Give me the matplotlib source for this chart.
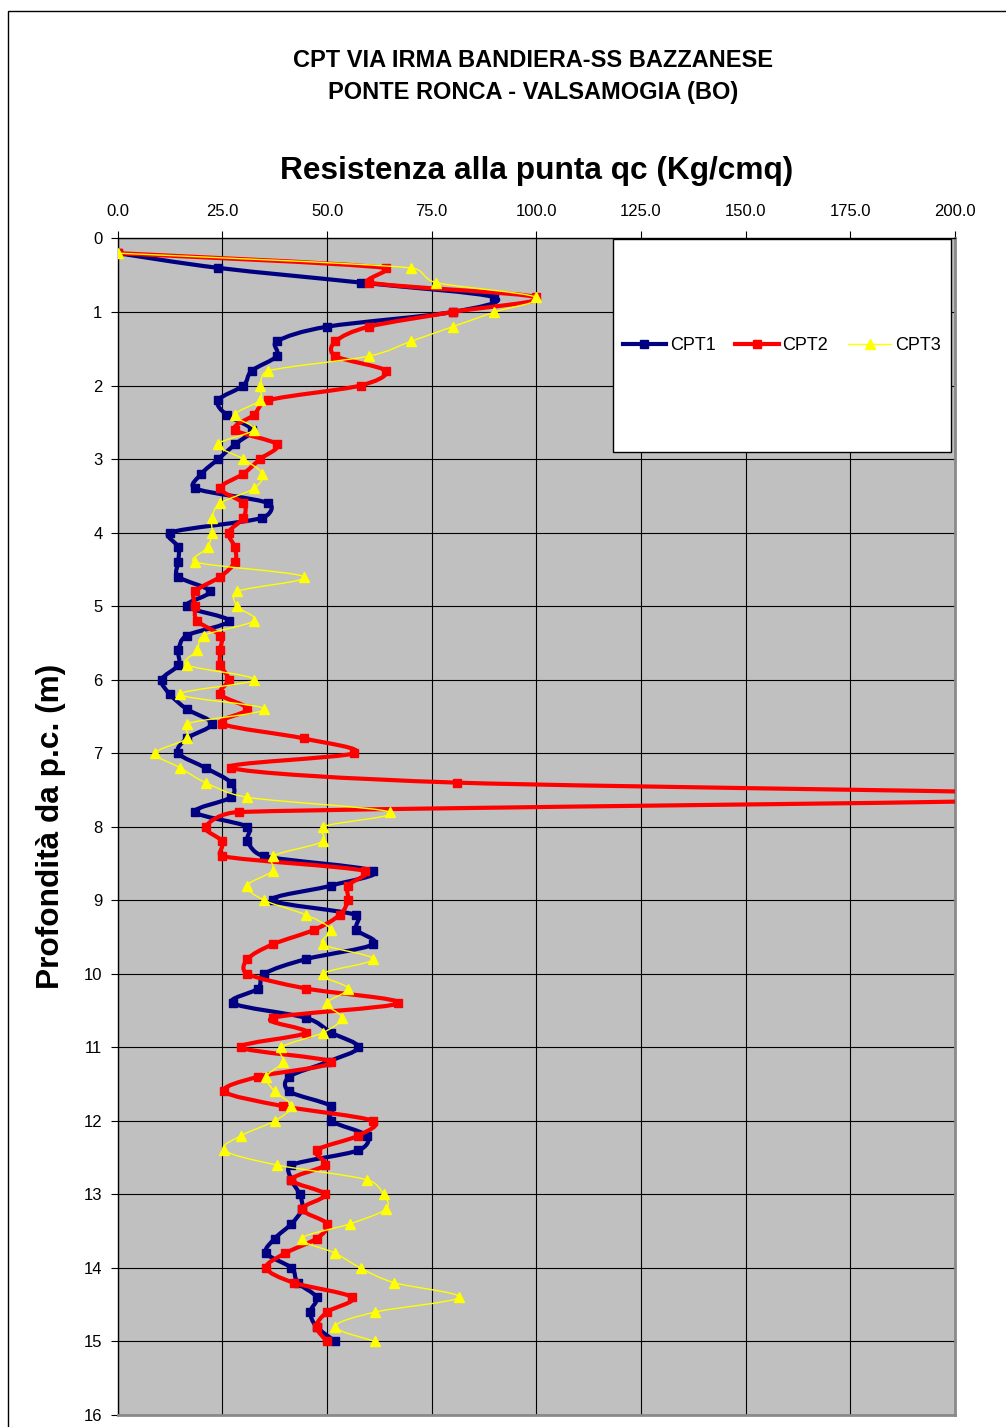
import matplotlib
matplotlib.use("Agg")
from matplotlib import pyplot as plt
from matplotlib.patches import Rectangle, PathPatch
from matplotlib.path import Path
from matplotlib.lines import Line2D
from matplotlib.ticker import FormatStrFormatter

plt.rcParams['font.family'] = ['Liberation Sans', 'DejaVu Sans']

# profondita' (m), passo 0.2 m
profondita = [0.2, 0.4, 0.6, 0.8, 1.0, 1.2, 1.4, 1.6, 1.8, 2.0,
              2.2, 2.4, 2.6, 2.8, 3.0, 3.2, 3.4, 3.6, 3.8, 4.0,
              4.2, 4.4, 4.6, 4.8, 5.0, 5.2, 5.4, 5.6, 5.8, 6.0,
              6.2, 6.4, 6.6, 6.8, 7.0, 7.2, 7.4, 7.6, 7.8, 8.0,
              8.2, 8.4, 8.6, 8.8, 9.0, 9.2, 9.4, 9.6, 9.8, 10.0,
              10.2, 10.4, 10.6, 10.8, 11.0, 11.2, 11.4, 11.6, 11.8, 12.0,
              12.2, 12.4, 12.6, 12.8, 13.0, 13.2, 13.4, 13.6, 13.8, 14.0,
              14.2, 14.4, 14.6, 14.8, 15.0]

cpt1 = [0, 24, 58, 90, 80, 50, 38, 38, 32, 30,
        24, 26, 32, 28, 24, 20, 18.5, 36, 34.5, 12.5,
        14.5, 14.5, 14.5, 22, 16.5, 26.5, 16.5, 14.5, 14.5, 10.5,
        12.5, 16.5, 22.5, 16.5, 14.5, 21, 27, 27, 18.5, 31,
        31, 35, 61, 51, 37, 57, 57, 61, 45, 35,
        33.5, 27.5, 45, 51, 57.5, 50, 41, 41, 51, 51,
        59.5, 57.5, 41.5, 41.5, 43.5, 44, 41.5, 37.5, 35.5, 41.5,
        43, 47.5, 46, 47.5, 52]

cpt2 = [0, 64, 60, 100, 80, 60, 52, 52, 64, 58,
        36, 32.5, 28, 38, 34, 30, 24.5, 30, 30, 26.5,
        28, 28, 24.5, 18.5, 18.5, 19, 24.5, 24.5, 24.5, 26.5,
        24.5, 31, 25, 44.5, 56.5, 27, 81, 243, 29, 21,
        25, 25, 59, 55, 55, 53, 47, 37, 31, 31,
        45, 67, 37, 45, 29.5, 51, 33.5, 25.5, 39.5, 61,
        57.5, 47.5, 49.5, 41.5, 49.5, 44, 50, 47.5, 40, 35.5,
        42, 56, 50, 47.5, 50]

cpt3 = [0, 70, 76, 100, 90, 80, 70, 60, 36, 34,
        34, 28, 32.5, 24, 30, 34.5, 32.5, 24.5, 22.5, 22.5,
        21.5, 18.5, 44.5, 28.5, 28.5, 32.5, 20.5, 19, 16.5, 32.5,
        15, 35, 16.5, 16.5, 9, 15, 21, 31, 65, 49,
        49, 37, 37, 31, 35, 45, 51, 49, 61, 49,
        55, 50, 53.5, 49, 39, 39.5, 35.5, 37.5, 41.5, 37.5,
        29.5, 25.5, 38, 59.5, 63.5, 64, 55.5, 44, 52, 58,
        66, 81.5, 61.5, 52, 61.5]

serie = [('CPT1', cpt1, '#000080', 3, 's', 5.5),
         ('CPT2', cpt2, '#FF0000', 3, 's', 5.5),
         ('CPT3', cpt3, '#FFFF00', 1, '^', 7)]

pos_assi = [0.117, 0.0084, 0.8323, 0.8245]
# pixel per unita' (serve solo per limitare le tangenti della curva)
SX = pos_assi[2] * 1006 / 200
SY = pos_assi[3] * 1427 / 16


def _lim(dx, dy, corda):
    # accorcia il braccio di controllo se troppo lungo rispetto al segmento
    lung = ((dx * SX) ** 2 + (dy * SY) ** 2) ** 0.5
    mx = 0.5 * corda
    if lung > mx and lung > 0:
        f = mx / lung
        return dx * f, dy * f
    return dx, dy


def curva_liscia(xs, ys):
    # linea "smussata" tipo Excel: bezier cubiche tra punti consecutivi
    n = len(xs)
    verts = [(xs[0], ys[0])]
    codes = [Path.MOVETO]
    for i in range(n - 1):
        x0, y0 = (xs[i - 1], ys[i - 1]) if i > 0 else (xs[i], ys[i])
        x3, y3 = (xs[i + 2], ys[i + 2]) if i + 2 < n else (xs[i + 1], ys[i + 1])
        corda = (((xs[i + 1] - xs[i]) * SX) ** 2 + ((ys[i + 1] - ys[i]) * SY) ** 2) ** 0.5
        d1 = _lim((xs[i + 1] - x0) / 6, (ys[i + 1] - y0) / 6, corda)
        d2 = _lim((x3 - xs[i]) / 6, (y3 - ys[i]) / 6, corda)
        c1 = (xs[i] + d1[0], ys[i] + d1[1])
        c2 = (xs[i + 1] - d2[0], ys[i + 1] - d2[1])
        verts += [c1, c2, (xs[i + 1], ys[i + 1])]
        codes += [Path.CURVE4] * 3
    return Path(verts, codes)


fig = plt.figure(figsize=(10.06, 14.27), dpi=100)
ax = fig.add_axes(pos_assi)
ax.set_facecolor('#C0C0C0')

maniglie = []
for k, (nome, valori, colore, lw, mk, ms) in enumerate(serie):
    ax.add_patch(PathPatch(curva_liscia(valori, profondita), facecolor='none',
                           edgecolor=colore, lw=lw, joinstyle='round', capstyle='round',
                           zorder=3 + k))
    ax.plot(valori, profondita, ls='none', marker=mk, ms=ms, color=colore, zorder=3 + k)
    maniglie.append(Line2D([], [], color=colore, lw=lw, marker=mk, ms=ms, label=nome))

ax.set_xlim(0, 200)
ax.set_ylim(16, 0)
ax.set_xticks(range(0, 201, 25))
ax.set_yticks(range(0, 17))
ax.xaxis.set_major_formatter(FormatStrFormatter('%.1f'))
ax.xaxis.tick_top()
ax.xaxis.set_label_position('top')
ax.tick_params(axis='x', direction='out', length=5, width=0.8, labelsize=12, pad=9)
ax.tick_params(axis='y', direction='out', length=5, width=0.8, labelsize=12, pad=6)
ax.grid(True, color='black', lw=0.8)
ax.set_axisbelow(True)

for s in ['left', 'top']:
    ax.spines[s].set_color('black')
    ax.spines[s].set_linewidth(1)
for s in ['right', 'bottom']:
    ax.spines[s].set_color('#8a8a8a')
    ax.spines[s].set_linewidth(2)

ax.set_xlabel('Resistenza alla punta qc (Kg/cmq)', fontsize=22.8, fontweight='bold', labelpad=18)
ax.set_ylabel('Profondità da p.c. (m)', fontsize=22.8, fontweight='bold', labelpad=13)

# riquadro legenda
ax.add_patch(Rectangle((0.591, 0.8186), 0.404, 0.1807, transform=ax.transAxes,
                       facecolor='white', edgecolor='black', lw=1, zorder=6))
ax.legend(handles=maniglie, loc='center', bbox_to_anchor=(0.793, 0.909), ncol=3,
          frameon=False, fontsize=13, handlelength=2.4, handletextpad=0.2,
          columnspacing=1.1).set_zorder(7)

fig.text(0.53, 0.9575, 'CPT VIA IRMA BANDIERA-SS BAZZANESE', ha='center', va='center',
         fontsize=17, fontweight='bold')
fig.text(0.53, 0.9355, 'PONTE RONCA - VALSAMOGIA (BO)', ha='center', va='center',
         fontsize=17, fontweight='bold')

# cornice esterna del grafico
fig.add_artist(Rectangle((0.008, -0.1), 1.2, 1.1 - 0.0075, transform=fig.transFigure,
                         fill=False, edgecolor='black', lw=1))

plt.savefig('out.png', dpi=100)
